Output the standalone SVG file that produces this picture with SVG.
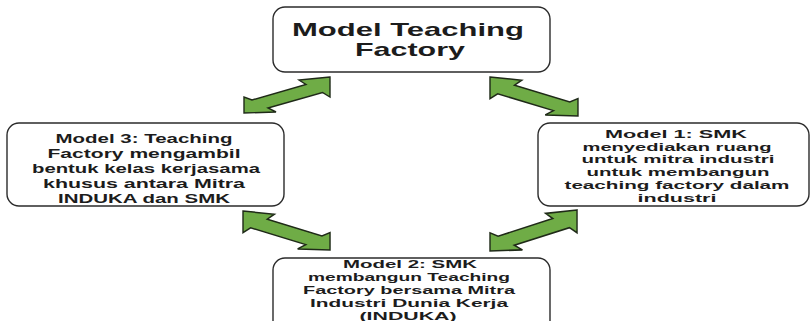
<svg xmlns="http://www.w3.org/2000/svg" width="811" height="321" viewBox="0 0 811 321">
  <defs>
    <style>
      .box { fill: #ffffff; stroke: #2b2b2b; stroke-width: 1.4; }
      .arrow { fill: #6fac46; stroke: #1f2a18; stroke-width: 1.4; stroke-linejoin: miter; }
      .t { font-family: "Liberation Sans", Arial, sans-serif; font-weight: bold; fill: #1c1c1c; text-anchor: middle; }
      .big { font-size: 19px; }
      .sl { font-size: 12.5px; }
      .sm { font-size: 11px; }
    </style>
    <polygon id="upright" points="86,0 55,3 62,7.5 8,23 0,20 0,36 32,35 24,31 78.5,15.5 86,20"/>
    <polygon id="downright" points="0,0 31,3 24,7.5 78,23 86,20 86,36 54,35 62,31 7.5,15.5 0,20"/>
  </defs>

  <g id="connectors">
    <use href="#upright" class="arrow" transform="translate(244,77)"/>
    <use href="#downright" class="arrow" transform="translate(490,77) scale(1.023,1.083)"/>
    <use href="#downright" class="arrow" transform="translate(243,211) scale(1.012,1.083)"/>
    <use href="#upright" class="arrow" transform="translate(490,210) scale(1.012,1.139)"/>
  </g>

  <g id="node-top">
    <rect class="box" x="273" y="7" width="277" height="65" rx="12"/>
    <text class="t big" x="408" y="36" textLength="232" lengthAdjust="spacingAndGlyphs">Model Teaching</text>
    <text class="t big" x="410" y="56" textLength="110" lengthAdjust="spacingAndGlyphs">Factory</text>
  </g>

  <g id="node-left">
    <rect class="box" x="7" y="123" width="277" height="83" rx="12"/>
    <text class="t sl" x="144" y="143" textLength="177" lengthAdjust="spacingAndGlyphs">Model 3: Teaching</text>
    <text class="t sl" x="144" y="158" textLength="193" lengthAdjust="spacingAndGlyphs">Factory mengambil</text>
    <text class="t sl" x="146" y="173" textLength="228" lengthAdjust="spacingAndGlyphs">bentuk kelas kerjasama</text>
    <text class="t sl" x="144" y="188" textLength="202" lengthAdjust="spacingAndGlyphs">khusus antara Mitra</text>
    <text class="t sl" x="144" y="203" textLength="172" lengthAdjust="spacingAndGlyphs">INDUKA dan SMK</text>
  </g>

  <g id="node-right">
    <rect class="box" x="538" y="123" width="271" height="83" rx="12"/>
    <text class="t sm" x="676" y="138" textLength="142" lengthAdjust="spacingAndGlyphs">Model 1: SMK</text>
    <text class="t sm" x="677" y="150.7" textLength="189" lengthAdjust="spacingAndGlyphs">menyediakan ruang</text>
    <text class="t sm" x="678" y="163.4" textLength="193" lengthAdjust="spacingAndGlyphs">untuk mitra industri</text>
    <text class="t sm" x="678" y="176.1" textLength="183" lengthAdjust="spacingAndGlyphs">untuk membangun</text>
    <text class="t sm" x="677" y="188.8" textLength="225" lengthAdjust="spacingAndGlyphs">teaching factory dalam</text>
    <text class="t sm" x="677" y="201.5" textLength="79" lengthAdjust="spacingAndGlyphs">industri</text>
  </g>

  <g id="node-bottom">
    <rect class="box" x="273" y="258" width="277" height="80" rx="12"/>
    <text class="t sm" x="410" y="268" textLength="134" lengthAdjust="spacingAndGlyphs">Model 2: SMK</text>
    <text class="t sm" x="409" y="281" textLength="202" lengthAdjust="spacingAndGlyphs">membangun Teaching</text>
    <text class="t sm" x="409" y="294" textLength="212" lengthAdjust="spacingAndGlyphs">Factory bersama Mitra</text>
    <text class="t sm" x="409" y="307" textLength="198" lengthAdjust="spacingAndGlyphs">Industri Dunia Kerja</text>
    <text class="t sm" x="408" y="320" textLength="97" lengthAdjust="spacingAndGlyphs">(INDUKA)</text>
  </g>
</svg>
